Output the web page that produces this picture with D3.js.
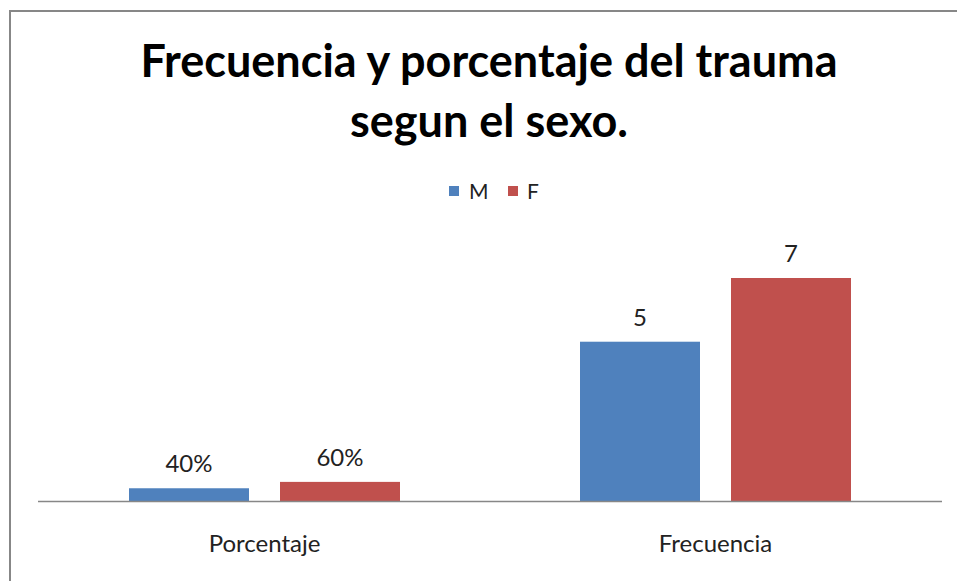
<!DOCTYPE html>
<html>
<head>
<meta charset="utf-8">
<script src="https://cdn.jsdelivr.net/npm/d3@7"></script>
<style>
  body { margin: 0; background: #fff; }
  svg { display: block; font-family: Lato, 'Open Sans', sans-serif; }
</style>
</head>
<body>
<script>
var outerWidth = 957;
var outerHeight = 581;

// data
var categories = ['Porcentaje', 'Frecuencia'];
var seriesNames = ['M', 'F'];
var seriesColors = ['#4F81BD', '#C0504D'];
var valuesM = [0.4, 5];
var valuesF = [0.6, 7];
var labelsM = ['40%', '5'];
var labelsF = ['60%', '7'];
var titleLines = ['Frecuencia y porcentaje del trauma', 'segun el sexo.'];

var svg = d3.select('body').append('svg')
  .attr('width', outerWidth)
  .attr('height', outerHeight);

// chart frame (runs off the right and bottom of the picture)
svg.append('rect')
  .attr('x', 10)
  .attr('y', 11)
  .attr('width', 1000)
  .attr('height', 700)
  .attr('fill', 'none')
  .attr('stroke', '#878787')
  .attr('stroke-width', 2);

// title
svg.selectAll('.title')
  .data(titleLines)
  .enter()
  .append('text')
  .attr('class', 'title')
  .attr('x', 489)
  .attr('y', function(d, i){ return 77 + i * 60; })
  .attr('text-anchor', 'middle')
  .attr('font-weight', 'bold')
  .attr('font-size', 45)
  .attr('fill', '#000')
  .text(function(d){ return d; });

// legend
var legend = svg.append('g').attr('class', 'legend');
var legendX = [449, 508];
var legendTextX = [469, 527];
seriesNames.forEach(function(name, i){
  legend.append('rect')
    .attr('x', legendX[i])
    .attr('y', 186)
    .attr('width', 10)
    .attr('height', 10)
    .attr('fill', seriesColors[i]);
  legend.append('text')
    .attr('x', legendTextX[i])
    .attr('y', 199)
    .attr('font-size', 21)
    .attr('fill', '#222')
    .text(name);
});

// scales
var x = d3.scaleBand()
  .domain(categories)
  .range([39, 941]);

var xInner = d3.scaleBand()
  .domain(seriesNames)
  .range([90, 361])
  .paddingInner(31 / 151);

var y = d3.scaleLinear()
  .domain([0, 7])
  .range([501, 278]);

var rows = categories.map(function(c, i){
  return [
    {cat: c, series: 'M', value: valuesM[i], label: labelsM[i], color: seriesColors[0]},
    {cat: c, series: 'F', value: valuesF[i], label: labelsF[i], color: seriesColors[1]}
  ];
});
var bars = d3.merge(rows);

svg.selectAll('.bar')
  .data(bars)
  .enter()
  .append('rect')
  .attr('class', 'bar')
  .attr('x', function(d){ return x(d.cat) + xInner(d.series); })
  .attr('y', function(d){ return y(d.value); })
  .attr('width', xInner.bandwidth())
  .attr('height', function(d){ return y(0) - y(d.value); })
  .attr('fill', function(d){ return d.color; });

svg.selectAll('.value')
  .data(bars)
  .enter()
  .append('text')
  .attr('class', 'value')
  .attr('x', function(d){ return x(d.cat) + xInner(d.series) + xInner.bandwidth() / 2; })
  .attr('y', function(d){ return y(d.value) - 16; })
  .attr('text-anchor', 'middle')
  .attr('font-size', 24)
  .attr('fill', '#222')
  .text(function(d){ return d.label; });

// x axis
var xAxis = svg.append('g')
  .attr('transform', 'translate(0,' + y(0) + ')')
  .call(d3.axisBottom(x).tickSize(0).tickPadding(34));

xAxis.select('.domain')
  .attr('d', 'M38,0.5H942')
  .attr('stroke', '#878787')
  .attr('stroke-width', 1.5);

xAxis.selectAll('text')
  .attr('font-family', "Lato, 'Open Sans', sans-serif")
  .attr('font-size', 24)
  .attr('fill', '#222');
</script>
</body>
</html>
